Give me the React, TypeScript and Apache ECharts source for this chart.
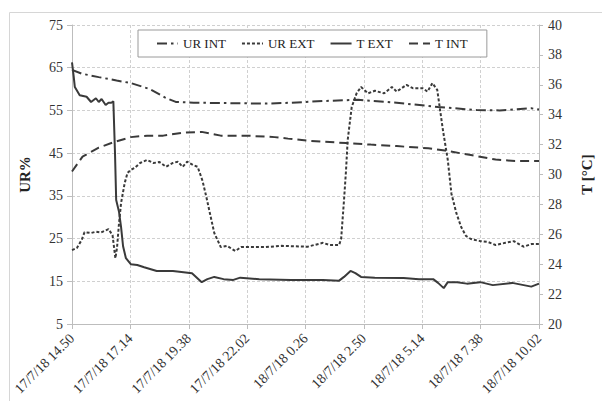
import React, { useEffect, useRef } from "react";
import * as echarts from "echarts";

// time in minutes since 17/7/18 14.50
const tickLabels = [
  "17/7/18 14.50",
  "17/7/18 17.14",
  "17/7/18 19.38",
  "17/7/18 22.02",
  "18/7/18 0.26",
  "18/7/18 2.50",
  "18/7/18 5.14",
  "18/7/18 7.38",
  "18/7/18 10.02",
];
const tickStep = 144;
const urAxisMin = 5;
const urAxisMax = 75;

// UR INT [minutes, %]
const urInt: [number, number][] = [
  [0, 64.5], [24, 63.6], [66, 62.8], [110, 62], [145, 61.4], [192, 60], [230, 58],
  [256, 57], [300, 56.8], [400, 56.7], [480, 56.6], [540, 56.8], [620, 57.2],
  [706, 57.5], [801, 56.8], [903, 55.8], [998, 55.1], [1055, 55], [1133, 55.5],
  [1152, 55.2],
];

// UR EXT [minutes, %]
const urExt: [number, number][] = [
  [0, 22.3], [12, 22.8], [24, 24.7], [31, 26.5], [47, 26.3], [59, 26.6], [71, 26.4],
  [90, 27.2], [100, 25.8], [107, 20.4], [111, 22.8], [116, 28.6], [121, 33.3],
  [130, 38], [137, 40.4], [145, 41.1], [154, 41.5], [168, 42.7], [185, 43.4],
  [201, 42.7], [216, 42.9], [232, 41.8], [249, 42.7], [261, 43], [273, 41.8],
  [284, 43], [299, 42.2], [310, 41.8], [322, 38.5], [332, 34.5], [340, 31],
  [351, 26.3], [367, 23.0], [382, 23.3], [403, 22.1], [417, 23], [476, 23],
  [517, 23.3], [581, 23.1], [619, 24], [635, 23.5], [659, 23.5], [664, 25],
  [671, 34], [676, 41], [680, 48], [690, 55.8], [702, 59], [713, 60.5], [730, 59],
  [747, 59.6], [770, 59], [789, 60.5], [801, 59.4], [825, 61], [841, 60.2],
  [865, 60.2], [877, 59.4], [889, 61.4], [901, 59.8], [915, 50.4], [927, 43.4],
  [936, 35.5], [948, 31], [960, 27.7], [972, 25.6], [984, 24.9], [1007, 24.4],
  [1026, 24.2], [1045, 23.5], [1069, 24], [1090, 24.4], [1114, 23.1], [1133, 23.7],
  [1152, 23.7],
];

// T EXT [minutes, °C]
const tExt: [number, number][] = [
  [0, 37.5], [4, 36.6], [7, 35.85], [19, 35.3], [36, 35.2], [47, 34.85], [59, 35.1],
  [66, 34.85], [73, 35.05], [83, 34.65], [90, 34.8], [97, 34.8], [102, 34.9],
  [106, 31.5], [109, 28.3], [116, 27.5], [121, 26.5], [126, 25.2], [133, 24.4],
  [145, 24.0], [161, 23.95], [178, 23.8], [209, 23.55], [249, 23.55], [296, 23.4],
  [320, 22.8], [334, 23.0], [351, 23.15], [374, 23.0], [398, 22.95], [415, 23.1],
  [462, 23.0], [540, 22.95], [619, 22.95], [659, 22.9], [671, 23.15], [687, 23.55],
  [699, 23.4], [713, 23.15], [747, 23.1], [818, 23.07], [856, 23.0], [891, 23.0],
  [903, 22.75], [917, 22.4], [927, 22.8], [950, 22.8], [974, 22.7], [1007, 22.8],
  [1038, 22.6], [1086, 22.75], [1133, 22.5], [1152, 22.7],
];

// T INT [minutes, °C]
const tInt: [number, number][] = [
  [0, 30.2], [26, 31.2], [66, 31.8], [107, 32.2], [145, 32.5], [185, 32.6],
  [225, 32.6], [273, 32.8], [320, 32.85], [367, 32.6], [429, 32.6], [500, 32.5],
  [533, 32.4], [588, 32.25], [676, 32.1], [737, 32.0], [801, 31.9], [879, 31.75],
  [920, 31.6], [984, 31.3], [1045, 31.0], [1093, 30.9], [1152, 30.9],
];

const FONT = "'Liberation Serif', 'Times New Roman', serif";
const LINE = "#3a3a3a";
const TXT = "#333333";
const GRID = "#d0d0d0";

export default function App() {
  const ref = useRef<HTMLDivElement>(null);
  useEffect(() => {
    if (!ref.current) return;
    const chart = echarts.init(ref.current, undefined, { renderer: "svg" });
    // left axis runs from urAxisMin; shift so ticks start at a multiple of interval
    const shift = (arr: [number, number][]) => arr.map(([t, v]) => [t, v - urAxisMin]);
    chart.setOption({
      animation: false,
      backgroundColor: "#ffffff",
      textStyle: { fontFamily: FONT },
      graphic: [
        {
          type: "rect",
          shape: { x: 9.5, y: 12.5, width: 640, height: 440 },
          style: { fill: "none", stroke: "#d6d6d6", lineWidth: 1 },
          silent: true,
        },
      ],
      grid: { left: 72, right: 44, top: 25, bottom: 77, containLabel: false },
      legend: {
        left: 138,
        top: 30,
        padding: [7, 19, 7, 18],
        itemWidth: 21,
        itemHeight: 12,
        itemGap: 15,
        borderColor: "#9a9a9a",
        borderWidth: 1,
        backgroundColor: "#ffffff",
        itemStyle: { opacity: 0 },
        textStyle: { fontFamily: FONT, fontSize: 13, color: "#222" },
        data: ["UR INT", "UR EXT", "T EXT", "T INT"],
      },
      xAxis: {
        type: "value",
        min: 0,
        max: tickStep * (tickLabels.length - 1),
        interval: tickStep,
        axisLine: { show: true, lineStyle: { color: "#bdbdbd" } },
        axisTick: { show: true, length: 5, lineStyle: { color: "#bdbdbd" } },
        splitLine: { show: true, lineStyle: { color: GRID, type: [3, 2] } },
        axisLabel: {
          rotate: 45,
          margin: 12,
          fontFamily: FONT,
          fontSize: 14,
          color: TXT,
          formatter: (v: number) => tickLabels[Math.round(v / tickStep)] ?? "",
        },
      },
      yAxis: [
        {
          type: "value",
          position: "left",
          min: 0,
          max: urAxisMax - urAxisMin,
          interval: 10,
          name: "UR%",
          nameLocation: "middle",
          nameGap: 40,
          nameTextStyle: { fontFamily: FONT, fontSize: 15, fontWeight: "bold", color: "#222" },
          axisLine: { show: true, lineStyle: { color: "#bdbdbd" } },
          axisTick: { show: true, length: 5, lineStyle: { color: "#bdbdbd" } },
          splitLine: { show: true, lineStyle: { color: GRID, type: [3, 2] } },
          axisLabel: {
            margin: 9,
            fontFamily: FONT,
            fontSize: 14,
            color: TXT,
            formatter: (v: number) => String(v + urAxisMin),
          },
        },
        {
          type: "value",
          position: "right",
          min: 20,
          max: 40,
          interval: 2,
          name: "T [°C]",
          nameLocation: "middle",
          nameGap: 40,
          nameTextStyle: { fontFamily: FONT, fontSize: 15, fontWeight: "bold", color: "#222" },
          axisLine: { show: true, lineStyle: { color: "#bdbdbd" } },
          axisTick: { show: true, length: 4, lineStyle: { color: "#bdbdbd" } },
          splitLine: { show: false },
          axisLabel: { margin: 9, fontFamily: FONT, fontSize: 14, color: TXT },
        },
      ],
      series: [
        {
          name: "UR INT",
          type: "line",
          yAxisIndex: 0,
          symbol: "none",
          data: shift(urInt),
          lineStyle: { color: LINE, width: 2, type: [10, 4, 2.5, 4] },
          itemStyle: { color: LINE },
        },
        {
          name: "UR EXT",
          type: "line",
          yAxisIndex: 0,
          symbol: "none",
          data: shift(urExt),
          lineStyle: { color: LINE, width: 2, type: [3, 2] },
          itemStyle: { color: LINE },
        },
        {
          name: "T EXT",
          type: "line",
          yAxisIndex: 1,
          symbol: "none",
          data: tExt,
          lineStyle: { color: LINE, width: 2, type: "solid" },
          itemStyle: { color: LINE },
        },
        {
          name: "T INT",
          type: "line",
          yAxisIndex: 1,
          symbol: "none",
          data: tInt,
          lineStyle: { color: LINE, width: 2, type: [9, 5] },
          itemStyle: { color: LINE },
        },
      ],
    });
    return () => chart.dispose();
  }, []);
  return (
    <div
      ref={ref}
      style={{ position: "fixed", left: 0, top: 0, width: 602, height: 401, background: "#fff" }}
    />
  );
}
